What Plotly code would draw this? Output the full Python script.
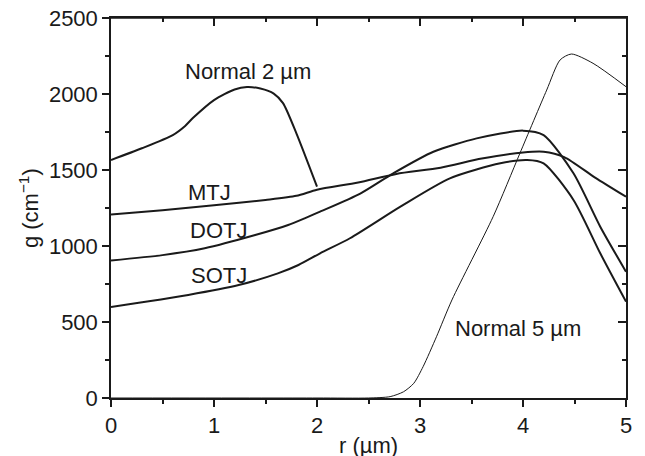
import plotly.graph_objects as go

# ---- data ----
n2_r = [0, 0.3, 0.6, 0.72, 0.8, 1.0, 1.2, 1.32, 1.45, 1.58, 1.67, 1.8, 2.0]
n2_g = [1566, 1643, 1730, 1790, 1845, 1960, 2030, 2046, 2036, 2003, 1940, 1741, 1390]

mtj_r = [0, 0.5, 1.0, 1.5, 1.8, 2.0, 2.4, 2.77, 3.2, 3.6, 4.0, 4.2, 4.4, 4.7, 5.0]
mtj_g = [1207, 1235, 1268, 1303, 1330, 1370, 1418, 1474, 1515, 1575, 1615, 1620, 1585, 1450, 1324]

dotj_r = [0, 0.5, 0.91, 1.4, 1.72, 1.88, 2.03, 2.42, 2.74, 3.13, 3.55, 4.0, 4.2, 4.49, 4.75, 5.0]
dotj_g = [905, 940, 985, 1072, 1138, 1182, 1226, 1345, 1478, 1620, 1708, 1759, 1730, 1478, 1127, 831]

sotj_r = [0, 0.75, 1.24, 1.62, 1.82, 2.03, 2.32, 2.81, 3.29, 3.78, 4.04, 4.2, 4.49, 4.75, 5.0]
sotj_g = [599, 678, 743, 820, 875, 952, 1051, 1259, 1445, 1544, 1566, 1544, 1303, 952, 634]

n5_r = [0, 2.0, 2.5, 2.71, 2.84, 2.94, 3.03, 3.16, 3.31, 3.71, 3.97, 4.23, 4.36, 4.47, 4.68, 5.0]
n5_g = [0, 0, 0, 9, 41, 97, 206, 403, 645, 1193, 1610, 2026, 2224, 2263, 2202, 2048]

labels = ["Normal 2 µm", "MTJ", "DOTJ", "SOTJ", "Normal 5 µm"]
label_r = [1.33, 0.96, 1.04, 1.05, 3.95]
label_g = [2145, 1349, 1105, 809, 460]

x_ticks = [0, 1, 2, 3, 4, 5]
y_ticks = [0, 500, 1000, 1500, 2000, 2500]

x_title = "r (µm)"
y_title = "g (cm<sup>−1</sup>)"

FONT = "Liberation Sans, Arial, sans-serif"
INK = "#1a1a1a"
FS = 22

fig = go.Figure()

def add_line(r, g, width):
    fig.add_trace(go.Scatter(x=r, y=g, mode="lines",
                             line=dict(color=INK, width=width, shape="spline", smoothing=0.7),
                             showlegend=False, hoverinfo="skip"))

add_line(n2_r, n2_g, 2)
add_line(mtj_r, mtj_g, 2)
add_line(dotj_r, dotj_g, 2)
add_line(sotj_r, sotj_g, 2)
add_line(n5_r, n5_g, 1)

# invisible trace for mirrored tick axes
fig.add_trace(go.Scatter(x=[0, 5], y=[0, 2500], xaxis="x2", yaxis="y2", mode="lines",
                         line=dict(width=0), opacity=0, showlegend=False, hoverinfo="skip"))

for t, r, g in zip(labels, label_r, label_g):
    fig.add_annotation(x=r, y=g, text=t, showarrow=False,
                       font=dict(family=FONT, size=FS, color=INK))

# axis titles as paper annotations
fig.add_annotation(xref="paper", yref="paper", x=0.5, y=-0.124, text=x_title,
                   showarrow=False, xanchor="center", yanchor="middle",
                   font=dict(family=FONT, size=FS, color=INK))
fig.add_annotation(xref="paper", yref="paper", x=-0.159, y=0.5, text=y_title,
                   showarrow=False, xanchor="center", yanchor="middle", textangle=-90,
                   font=dict(family=FONT, size=FS, color=INK))

# top frame edge
fig.add_shape(type="line", xref="paper", yref="paper", x0=0, x1=1, y0=1, y1=1,
              line=dict(color=INK, width=1.5), layer="above")

axis_common = dict(showgrid=False, zeroline=False, linecolor=INK, linewidth=1.5,
                   tickcolor=INK, tickwidth=1.5, automargin=False)

# page body has an 8px default margin, so margins are shifted to compensate
fig.update_layout(
    width=645, height=456,
    margin=dict(l=103, r=27, t=10, b=66),
    plot_bgcolor="white", paper_bgcolor="white",
    font=dict(family=FONT, size=FS, color=INK),
    xaxis=dict(range=[0, 5], tickvals=x_ticks, ticks="outside", ticklen=7,
               showline=True, mirror=True,
               minor=dict(dtick=0.5, ticks="outside", ticklen=4, tickcolor=INK, tickwidth=1.5),
               tickfont=dict(size=FS), ticklabeloverflow="allow", **axis_common),
    yaxis=dict(range=[0, 2500], tickvals=y_ticks, ticks="outside", ticklen=7,
               showline=True, mirror=True,
               minor=dict(dtick=250, ticks="outside", ticklen=4, tickcolor=INK, tickwidth=1.5),
               tickfont=dict(size=FS), ticklabeloverflow="allow", **axis_common),
    xaxis2=dict(range=[0, 5], overlaying="x", side="top", anchor="y", tickvals=x_ticks,
                ticks="inside", ticklen=8, showticklabels=False, showline=False,
                minor=dict(dtick=0.5, ticks="inside", ticklen=4, tickcolor=INK, tickwidth=1.5),
                **axis_common),
    yaxis2=dict(range=[0, 2500], overlaying="y", side="right", anchor="x", tickvals=y_ticks,
                ticks="inside", ticklen=8, showticklabels=False, showline=False,
                minor=dict(dtick=250, ticks="inside", ticklen=4, tickcolor=INK, tickwidth=1.5),
                **axis_common),
)

fig.write_html("out.html")
